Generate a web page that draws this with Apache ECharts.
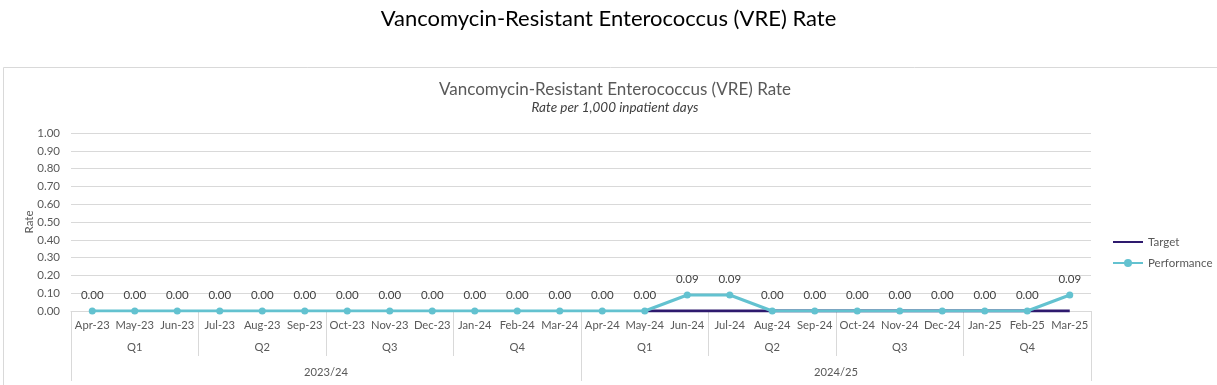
<!DOCTYPE html>
<html><head><meta charset="utf-8">
<script src="https://cdn.jsdelivr.net/npm/echarts@6/dist/echarts.min.js"></script>
<style>html,body{margin:0;padding:0;background:#fff}#c{width:1217px;height:385px}</style>
</head><body><div id="c"></div>
<script>
const months = ['Apr-23','May-23','Jun-23','Jul-23','Aug-23','Sep-23','Oct-23','Nov-23','Dec-23','Jan-24','Feb-24','Mar-24','Apr-24','May-24','Jun-24','Jul-24','Aug-24','Sep-24','Oct-24','Nov-24','Dec-24','Jan-25','Feb-25','Mar-25'];
const quarters = ['Q1','Q2','Q3','Q4','Q1','Q2','Q3','Q4'];
const years = ['2023/24','2024/25'];
const performance = [0,0,0,0,0,0,0,0,0,0,0,0,0,0,0.09,0.09,0,0,0,0,0,0,0,0.09];
const target = [null,null,null,null,null,null,null,null,null,null,null,null,null,0,0,0,0,0,0,0,0,0,0,0];
const yTicks = {min:0, max:1, interval:0.1};

const FONT = 'Lato, "Open Sans", sans-serif';
const chart = echarts.init(document.getElementById('c'), null, {renderer:'canvas'});
chart.setOption({
  animation:false,
  textStyle:{fontFamily:FONT},
  title:[
    {text:'Vancomycin-Resistant Enterococcus (VRE) Rate', left:'center', top:3, textStyle:{fontFamily:FONT, fontSize:22, fontWeight:'normal', color:'#000'}},
    {text:'Vancomycin-Resistant Enterococcus (VRE) Rate', subtext:'Rate per 1,000 inpatient days', left:610, textAlign:'center', top:76, itemGap:3,
      textStyle:{fontFamily:FONT, fontSize:17, fontWeight:'normal', color:'#595959'},
      subtextStyle:{fontFamily:FONT, fontSize:13.5, fontStyle:'italic', color:'#404040'}}
  ],
  graphic:[{type:'rect', shape:{x:3.5, y:67.5, width:1230, height:330}, style:{fill:'none', stroke:'#D9D9D9', lineWidth:1}, silent:true, z:-1}],
  legend:{orient:'vertical', left:1107, top:231, itemGap:9, itemWidth:30, itemHeight:10,
    textStyle:{fontFamily:FONT, fontSize:11.5, color:'#595959'},
    data:[{name:'Target', itemStyle:{opacity:0}}, 'Performance']},
  grid:{left:71, right:126, top:133, bottom:74},
  xAxis:[
    {type:'category', data:months, boundaryGap:true, axisLine:{lineStyle:{color:'#D9D9D9'}}, axisTick:{show:false},
      axisLabel:{interval:0, margin:9, fontSize:11.2, color:'#595959', fontFamily:FONT}},
    {type:'category', data:quarters, position:'bottom', boundaryGap:true, axisLine:{show:false},
      axisTick:{show:true, length:45, lineStyle:{color:'#D9D9D9'}}, axisLabel:{interval:0, margin:31, fontSize:11.2, color:'#595959', fontFamily:FONT}},
    {type:'category', data:years, position:'bottom', boundaryGap:true, axisLine:{show:false},
      axisTick:{show:true, length:70, lineStyle:{color:'#D9D9D9'}}, axisLabel:{interval:0, margin:56, fontSize:11.2, color:'#595959', fontFamily:FONT}}
  ],
  yAxis:{type:'value', min:yTicks.min, max:yTicks.max, interval:yTicks.interval, name:'Rate', nameLocation:'middle', nameGap:36, nameMoveOverlap:false,
    nameTextStyle:{fontSize:11.5, color:'#595959', fontFamily:FONT},
    axisLine:{show:false}, axisTick:{show:false}, splitLine:{lineStyle:{color:'#D9D9D9'}},
    axisLabel:{formatter:v=>v.toFixed(2), margin:11, fontSize:11.5, color:'#595959', fontFamily:FONT}},
  series:[
    {name:'Target', type:'line', data:target, symbol:'none', lineStyle:{color:'#2E1A6E', width:3}, itemStyle:{color:'#2E1A6E'}, z:2},
    {name:'Performance', type:'line', data:performance, symbol:'circle', symbolSize:7, lineStyle:{color:'#63C2D0', width:3}, itemStyle:{color:'#63C2D0'}, z:3,
      label:{show:true, position:'top', distance:6, formatter:p=>p.value.toFixed(2), fontSize:11.5, color:'#404040', fontFamily:FONT}}
  ]
});
</script></body></html>
